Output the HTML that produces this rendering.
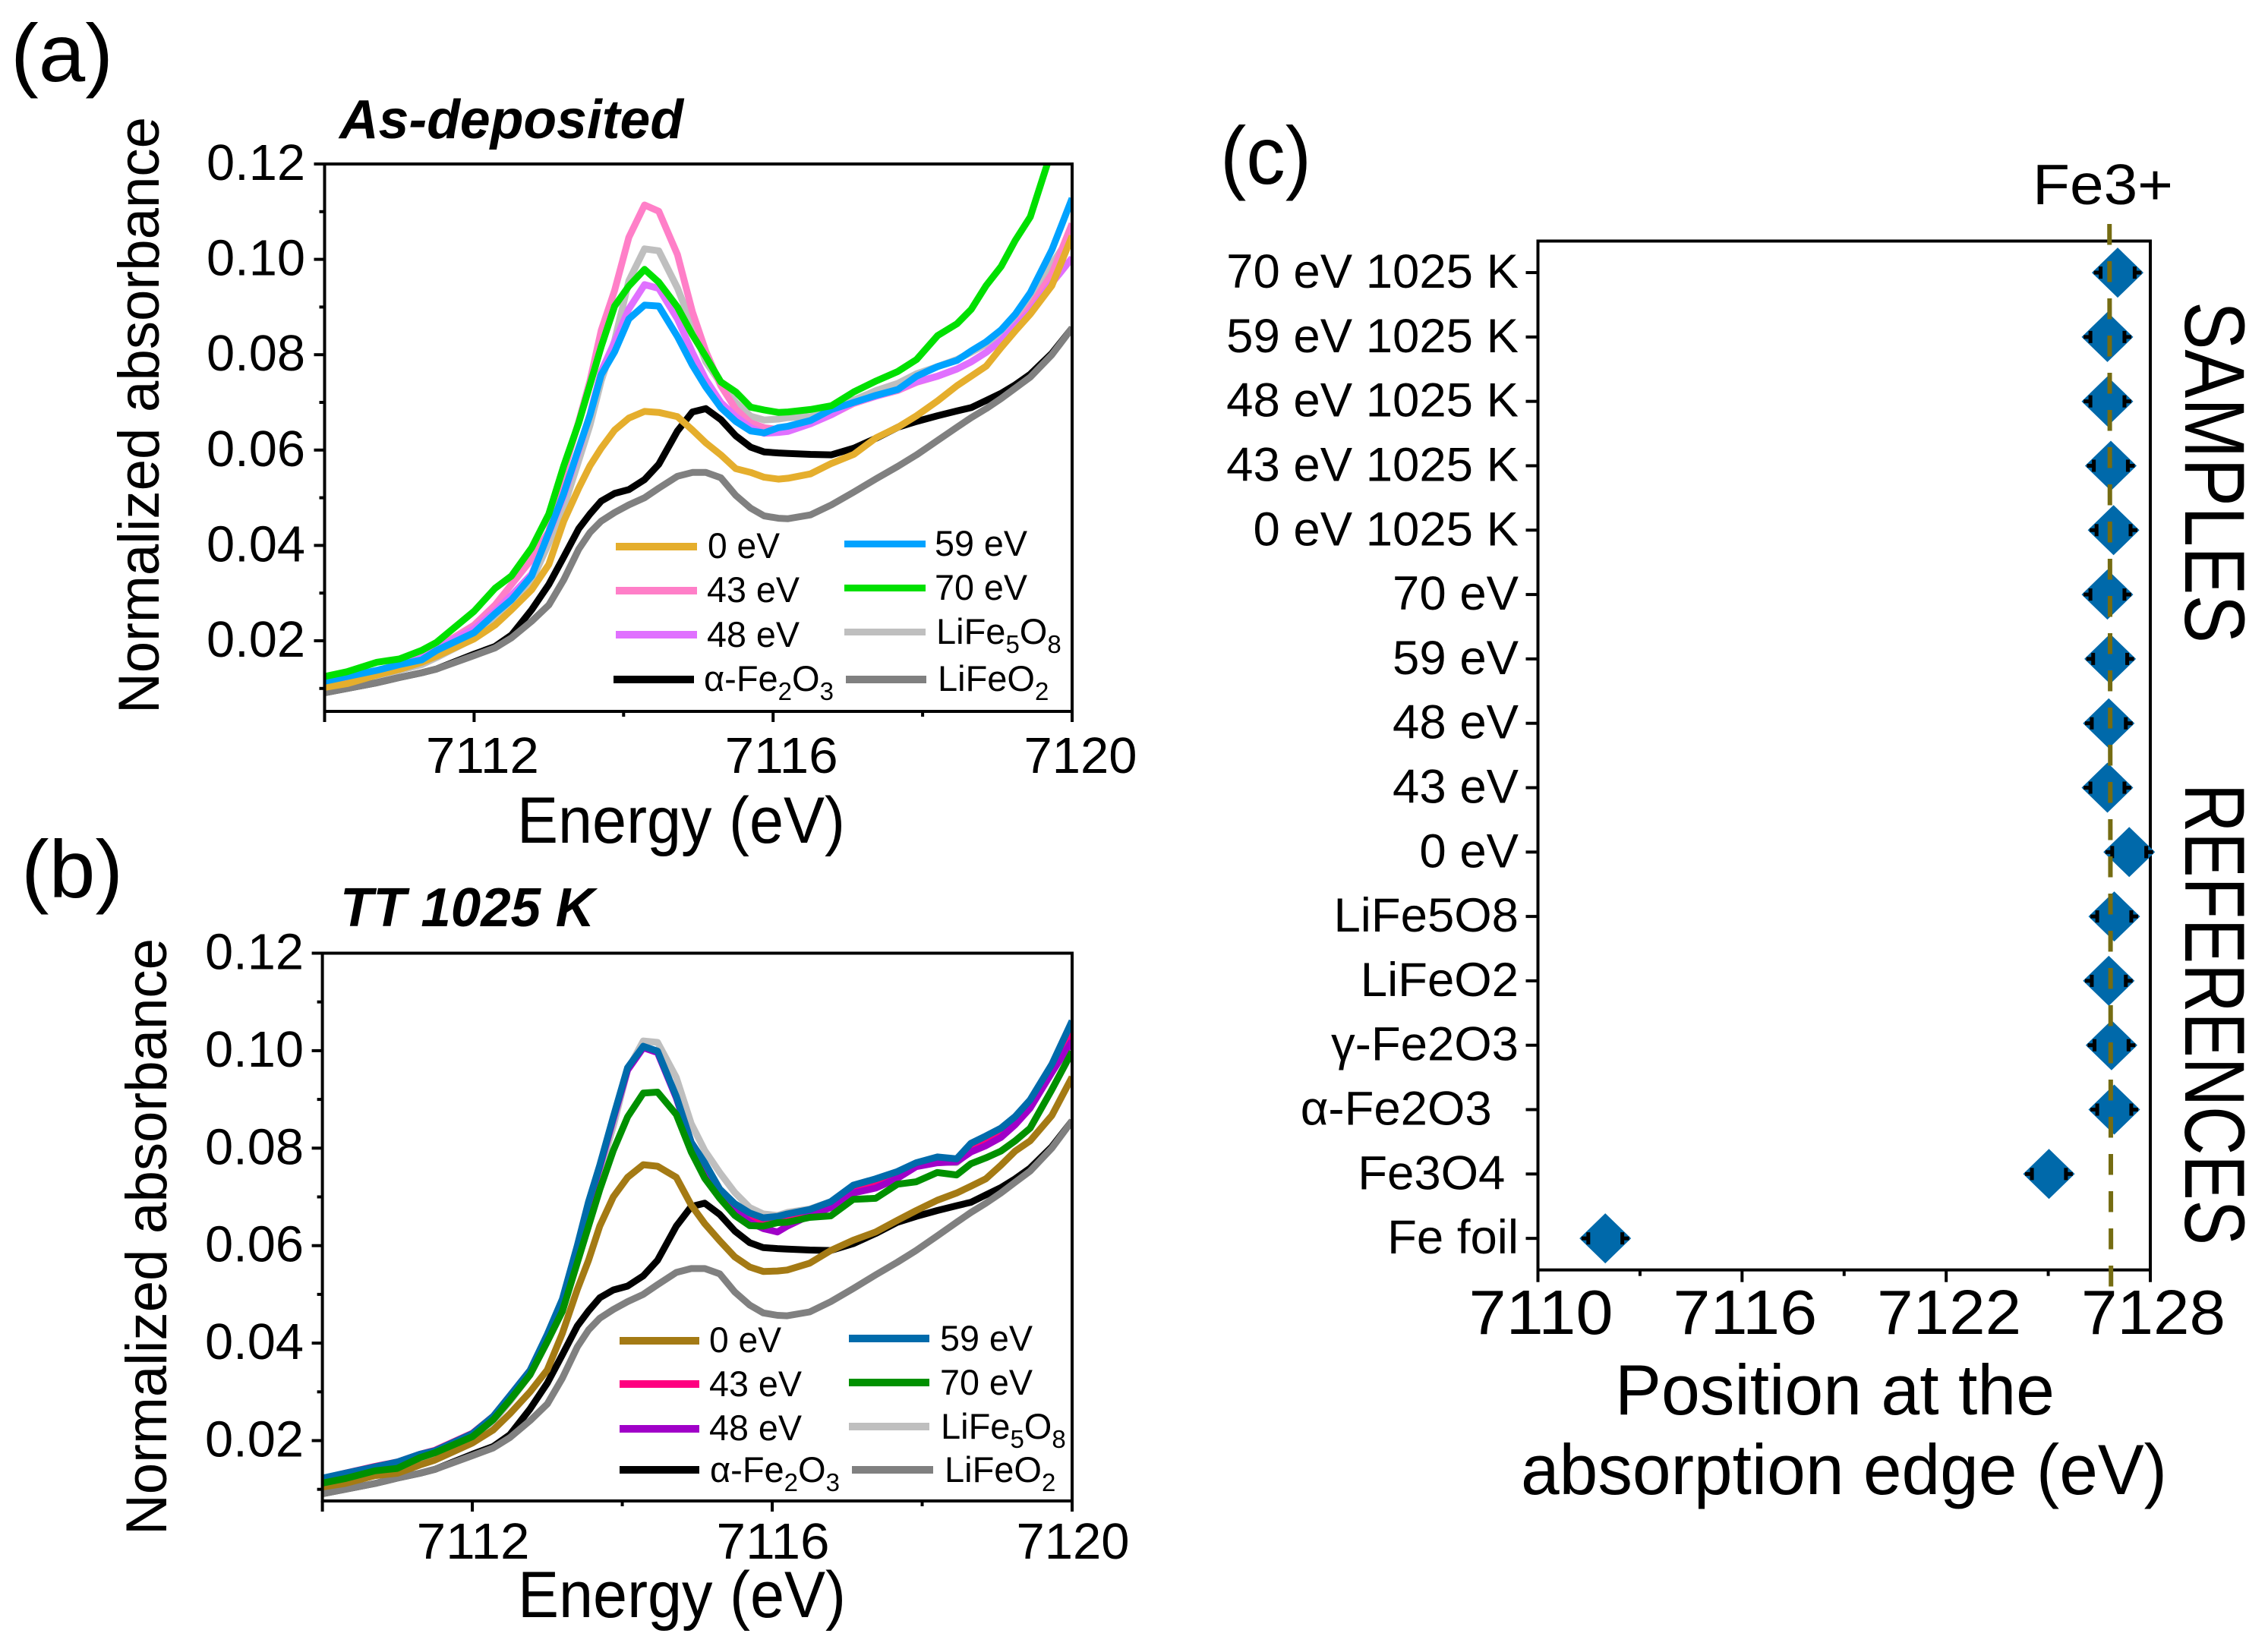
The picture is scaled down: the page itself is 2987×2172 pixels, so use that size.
<!DOCTYPE html>
<html lang="en">
<head>
<meta charset="utf-8">
<title>Fe K-edge XANES chart</title>
<style>
html,body{margin:0;padding:0;background:#fff;}
svg{display:block;}
text{font-family:"Liberation Sans","DejaVu Sans",sans-serif;fill:#000;white-space:pre;}
.panel-tag{font-size:108px;}
.plot-title{font-size:72px;font-weight:bold;font-style:italic;}
.ax-title{font-size:86px;}
.tick{font-size:67px;}
.leg{font-size:47px;}
.sub{font-size:33px;}
</style>
</head>
<body>
<svg id="figure" xmlns="http://www.w3.org/2000/svg" width="2987" height="2172" viewBox="0 0 2987 2172">
  <rect x="0" y="0" width="2987" height="2172" fill="#fff"/>

  <text class="panel-tag" x="14" y="107" textLength="135" lengthAdjust="spacingAndGlyphs">(a)</text>
  <text class="panel-tag" x="28" y="1182" textLength="134" lengthAdjust="spacingAndGlyphs">(b)</text>
  <text class="panel-tag" x="1607" y="242" textLength="120" lengthAdjust="spacingAndGlyphs">(c)</text>

  <text class="plot-title" x="447" y="182" textLength="453" lengthAdjust="spacingAndGlyphs">As-deposited</text>
  <text class="plot-title" x="448" y="1220" textLength="335" lengthAdjust="spacingAndGlyphs">TT 1025 K</text>

  <text transform="translate(209,940) rotate(-90)" style="font-size:76px" textLength="786" lengthAdjust="spacingAndGlyphs">Normalized absorbance</text>
  <text class="ax-title" x="681" y="1110" textLength="432" lengthAdjust="spacingAndGlyphs">Energy (eV)</text>
  <text transform="translate(219,2022) rotate(-90)" style="font-size:76px" textLength="786" lengthAdjust="spacingAndGlyphs">Normalized absorbance</text>
  <text class="ax-title" x="682" y="2130" textLength="432" lengthAdjust="spacingAndGlyphs">Energy (eV)</text>

  <g id="plotA"></g>
  <g id="plotB"></g>
  <g id="plotC"></g>

  <g>
    <rect x="811" y="715" width="107" height="10" fill="#e5ae2d"/>
    <rect x="811" y="773" width="107" height="10" fill="#ff7fc8"/>
    <rect x="811" y="831" width="107" height="10" fill="#e070ff"/>
    <rect x="808" y="890" width="106" height="10" fill="#000"/>
    <rect x="1112" y="712" width="107" height="9" fill="#00a2ff"/>
    <rect x="1112" y="770" width="107" height="9" fill="#00e000"/>
    <rect x="1112" y="828" width="107" height="9" fill="#bfbfbf"/>
    <rect x="1114" y="890" width="106" height="10" fill="#808080"/>
    <text class="leg" x="932" y="735" textLength="95" lengthAdjust="spacingAndGlyphs">0 eV</text>
    <text class="leg" x="931" y="793" textLength="122" lengthAdjust="spacingAndGlyphs">43 eV</text>
    <text class="leg" x="931" y="852" textLength="122" lengthAdjust="spacingAndGlyphs">48 eV</text>
    <text class="leg" x="927" y="910">α-Fe<tspan class="sub" dy="12">2</tspan><tspan dy="-12">O</tspan><tspan class="sub" dy="12">3</tspan></text>
    <text class="leg" x="1231" y="732" textLength="122" lengthAdjust="spacingAndGlyphs">59 eV</text>
    <text class="leg" x="1231" y="790" textLength="122" lengthAdjust="spacingAndGlyphs">70 eV</text>
    <text class="leg" x="1233" y="848">LiFe<tspan class="sub" dy="12">5</tspan><tspan dy="-12">O</tspan><tspan class="sub" dy="12">8</tspan></text>
    <text class="leg" x="1235" y="910">LiFeO<tspan class="sub" dy="12">2</tspan></text>
  </g>

  <g>
    <rect x="816" y="1761" width="105" height="10" fill="#a47a14"/>
    <rect x="816" y="1818" width="105" height="10" fill="#ff0080"/>
    <rect x="816" y="1877" width="105" height="10" fill="#a000c8"/>
    <rect x="816" y="1931" width="105" height="10" fill="#000"/>
    <rect x="1118" y="1758" width="106" height="10" fill="#006bab"/>
    <rect x="1118" y="1816" width="106" height="10" fill="#009000"/>
    <rect x="1118" y="1874" width="106" height="10" fill="#bfbfbf"/>
    <rect x="1122" y="1931" width="107" height="10" fill="#808080"/>
    <text class="leg" x="934" y="1781" textLength="95" lengthAdjust="spacingAndGlyphs">0 eV</text>
    <text class="leg" x="934" y="1839" textLength="122" lengthAdjust="spacingAndGlyphs">43 eV</text>
    <text class="leg" x="934" y="1897" textLength="122" lengthAdjust="spacingAndGlyphs">48 eV</text>
    <text class="leg" x="935" y="1952">α-Fe<tspan class="sub" dy="12">2</tspan><tspan dy="-12">O</tspan><tspan class="sub" dy="12">3</tspan></text>
    <text class="leg" x="1238" y="1779" textLength="122" lengthAdjust="spacingAndGlyphs">59 eV</text>
    <text class="leg" x="1238" y="1837" textLength="122" lengthAdjust="spacingAndGlyphs">70 eV</text>
    <text class="leg" x="1239" y="1895">LiFe<tspan class="sub" dy="12">5</tspan><tspan dy="-12">O</tspan><tspan class="sub" dy="12">8</tspan></text>
    <text class="leg" x="1244" y="1952">LiFeO<tspan class="sub" dy="12">2</tspan></text>
  </g>

  <text x="2677" y="269" style="font-size:75px" textLength="185" lengthAdjust="spacingAndGlyphs">Fe3+</text>
  <text transform="translate(2878,397) rotate(90)" style="font-size:112px" textLength="450" lengthAdjust="spacingAndGlyphs">SAMPLES</text>
  <text transform="translate(2878,1032) rotate(90)" style="font-size:112px" textLength="608" lengthAdjust="spacingAndGlyphs">REFERENCES</text>
  <text x="2127" y="1863" style="font-size:94px" textLength="579" lengthAdjust="spacingAndGlyphs">Position at the</text>
  <text x="2003" y="1968" style="font-size:94px" textLength="851" lengthAdjust="spacingAndGlyphs">absorption edge (eV)</text>
</svg>

<script>
// Shared energy grid (eV)
var energies = [7110,7110.3,7110.7,7111,7111.3,7111.5,7112,7112.28,7112.5,7112.77,7113,7113.2,7113.4,7113.55,7113.7,7113.88,7114.07,7114.28,7114.47,7114.72,7114.92,7115.1,7115.3,7115.5,7115.7,7115.88,7116.07,7116.2,7116.5,7116.78,7117.08,7117.38,7117.67,7117.92,7118.2,7118.46,7118.65,7118.85,7119.05,7119.24,7119.44,7119.73,7120];

// Reference spectra (both panels)
var alphaFe2O3 = [.0091,.0100,.0112,.0123,.0133,.0141,.0172,.0188,.0212,.0265,.0318,.0376,.0435,.0466,.0493,.0509,.0517,.0538,.0570,.0640,.0680,.0687,.0664,.0630,.0606,.0596,.0594,.0593,.0591,.0590,.0604,.0625,.0648,.0660,.0672,.0682,.0689,.0704,.0719,.0737,.0759,.0803,.0856];
var liFeO2 = [.0091,.0100,.0112,.0123,.0133,.0141,.0169,.0185,.0206,.0241,.0275,.0328,.0392,.0427,.0451,.0469,.0485,.0500,.0520,.0545,.0553,.0553,.0542,.0505,.0478,.0462,.0457,.0456,.0464,.0485,.0512,.0540,.0566,.0590,.0620,.0648,.0668,.0687,.0708,.0730,.0753,.0800,.0856];

// Panel (a) as-deposited spectra
var a0eV = [.0102,.0110,.0128,.0140,.0155,.0168,.0204,.0233,.0265,.0307,.0360,.0451,.0520,.0567,.0604,.0642,.0667,.0681,.0679,.0670,.0642,.0615,.0590,.0561,.0553,.0543,.0539,.0541,.0550,.0572,.0591,.0626,.0648,.0672,.0703,.0735,.0755,.0776,.0815,.0850,.0885,.0945,.1049];
var a43eV = [.0112,.0122,.0136,.0150,.0165,.0185,.0233,.0275,.0318,.0371,.0430,.0555,.0660,.0745,.0851,.0935,.1046,.1114,.1101,.1010,.0890,.0807,.0735,.0686,.0657,.0647,.0643,.0645,.0655,.0674,.0698,.0713,.0725,.0742,.0755,.0770,.0785,.0805,.0830,.0860,.0900,.0970,.1075];
var a48eV = [.0112,.0122,.0136,.0150,.0165,.0185,.0225,.0262,.0295,.0340,.0425,.0505,.0600,.0675,.0765,.0827,.0896,.0947,.0939,.0875,.0805,.0748,.0700,.0670,.0647,.0635,.0637,.0639,.0655,.0674,.0700,.0713,.0727,.0743,.0755,.0770,.0785,.0805,.0830,.0861,.0890,.0950,.1003];
var a59eV = [.0115,.0125,.0138,.0150,.0160,.0180,.0217,.0257,.0286,.0336,.0427,.0509,.0604,.0673,.0758,.0806,.0875,.0904,.0902,.0838,.0778,.0732,.0689,.0660,.0640,.0636,.0647,.0650,.0662,.0685,.0700,.0715,.0727,.0755,.0775,.0788,.0808,.0827,.0852,.0885,.0930,.1020,.1128];
var a70eV = [.0125,.0135,.0155,.0162,.0180,.0197,.0262,.0310,.0336,.0395,.0466,.0567,.0657,.0737,.0817,.0902,.0944,.0979,.0952,.0900,.0842,.0796,.0743,.0722,.0690,.0684,.0679,.0680,.0685,.0693,.0722,.0745,.0765,.0790,.0840,.0865,.0895,.0945,.0985,.1040,.1089,.1230,.1500];
var aLiFe5O8 = [.0105,.0113,.0125,.0138,.0150,.0165,.0205,.0240,.0275,.0325,.0405,.0480,.0578,.0652,.0745,.0830,.0955,.1022,.1018,.0940,.0860,.0785,.0740,.0700,.0671,.0663,.0665,.0668,.0670,.0680,.0705,.0725,.0740,.0760,.0775,.0790,.0805,.0822,.0845,.0880,.0918,.0990,.1055];

// Panel (b) TT 1025 K spectra
var b0eV = [.0105,.0112,.0128,.0133,.0150,.0160,.0195,.0222,.0255,.0300,.0345,.0420,.0510,.0570,.0640,.0700,.0740,.0766,.0763,.0740,.0683,.0645,.0610,.0577,.0556,.0547,.0548,.0550,.0564,.0590,.0611,.0628,.0652,.0672,.0693,.0708,.0722,.0737,.0765,.0794,.0815,.0867,.0946];
var b43eV = [.0122,.0133,.0147,.0156,.0172,.0180,.0215,.0250,.0292,.0344,.0416,.0488,.0598,.0688,.0763,.0862,.0963,.1008,.0998,.0905,.0812,.0768,.0712,.0680,.0657,.0648,.0650,.0655,.0668,.0684,.0715,.0728,.0745,.0768,.0778,.0776,.0800,.0815,.0835,.0860,.0895,.0965,.1035];
var b48eV = [.0120,.0131,.0145,.0154,.0170,.0178,.0213,.0248,.0290,.0342,.0414,.0486,.0596,.0686,.0761,.0860,.0960,.1006,.0996,.0903,.0810,.0765,.0708,.0673,.0648,.0635,.0628,.0640,.0662,.0678,.0708,.0718,.0738,.0762,.0770,.0772,.0792,.0805,.0822,.0848,.0882,.0955,.1020];
var b59eV = [.0123,.0133,.0146,.0156,.0172,.0179,.0214,.0250,.0292,.0344,.0418,.0490,.0600,.0690,.0765,.0864,.0965,.1009,.0999,.0906,.0812,.0770,.0716,.0686,.0667,.0657,.0660,.0665,.0674,.0690,.0724,.0737,.0752,.0770,.0782,.0778,.0810,.0825,.0841,.0865,.0899,.0972,.1061];
var b70eV = [.0113,.0122,.0138,.0143,.0165,.0175,.0208,.0243,.0283,.0335,.0403,.0465,.0565,.0640,.0715,.0795,.0864,.0913,.0915,.0869,.0792,.0738,.0697,.0662,.0641,.0640,.0647,.0648,.0658,.0661,.0695,.0697,.0726,.0731,.0750,.0745,.0768,.0780,.0794,.0815,.0841,.0920,.0998];
var bLiFe5O8 = [.0112,.0120,.0133,.0143,.0158,.0168,.0205,.0240,.0280,.0335,.0405,.0465,.0580,.0672,.0750,.0845,.0960,.1020,.1017,.0945,.0850,.0795,.0750,.0709,.0678,.0665,.0662,.0668,.0675,.0690,.0715,.0730,.0745,.0765,.0772,.0770,.0795,.0815,.0838,.0862,.0895,.0965,.1045];

// Axis labels and ticks for the spectra panels
var yMajorTicks = [0.02,0.04,0.06,0.08,0.10,0.12];
var yMinorTicks = [0.01,0.03,0.05,0.07,0.09,0.11];
var xMajorTicks = [7110,7112,7116,7120];
var xMinorTicks = [7114,7118];
var xTickLabels = [7112,7116,7120];

// Panel (c) data
var edgeCategories = ["70 eV 1025 K","59 eV 1025 K","48 eV 1025 K","43 eV 1025 K","0 eV 1025 K","70 eV","59 eV","48 eV","43 eV","0 eV","LiFe5O8","LiFeO2","γ-Fe2O3","α-Fe2O3  ","Fe3O4 ","Fe foil"];
var edgePositions = [7127.04,7126.74,7126.74,7126.84,7126.92,7126.74,7126.82,7126.78,7126.74,7127.38,7126.94,7126.78,7126.86,7126.94,7125.02,7111.98];
var edgeErrors = [0.5,0.5,0.5,0.5,0.5,0.5,0.5,0.5,0.5,0.5,0.5,0.5,0.5,0.5,0.5,0.5];
var edgeXTicks = [7110,7116,7122,7128];
var edgeXMinorTicks = [7113,7119,7125];
var fe3Reference = [7126.8];

var NS = "http://www.w3.org/2000/svg";
function mk(tag, parent) {
  var el = document.createElementNS(NS, tag);
  parent.appendChild(el);
  return el;
}
function tickLine(parent, x1, y1, x2, y2, w) {
  var l = mk("line", parent);
  l.setAttribute("x1", x1);
  l.setAttribute("y1", y1);
  l.setAttribute("x2", x2);
  l.setAttribute("y2", y2);
  l.setAttribute("stroke", "#000");
  l.setAttribute("stroke-width", w);
  
  
  return l;
}

function drawSpectra(cfg) {
  var g = document.getElementById(cfg.id);
  function X(e) { return cfg.left + (e - 7110) / 10 * (cfg.right - cfg.left); }
  function Y(v) { return cfg.y012 + (0.12 - v) * cfg.pxPerUnit; }

  var clip = mk("clipPath", g);
  clip.setAttribute("id", cfg.id + "-clip");
  var cr = mk("rect", clip);
  cr.setAttribute("x", cfg.left);
  cr.setAttribute("y", cfg.y012);
  cr.setAttribute("width", cfg.right - cfg.left);
  cr.setAttribute("height", cfg.bottom - cfg.y012);

  var sg = mk("g", g);
  sg.setAttribute("clip-path", "url(#" + cfg.id + "-clip)");
  
  
  cfg.series.forEach(function (s) {
    var p = mk("polyline", sg);
    p.setAttribute("points", energies.map(function (e, i) { return X(e).toFixed(1) + "," + Y(s.values[i]).toFixed(1); }).join(" "));
    p.setAttribute("fill", "none");
    p.setAttribute("stroke", s.color);
    p.setAttribute("stroke-width", cfg.lineWidth);
    p.setAttribute("stroke-linejoin", "round");
    
    
  });

  var frame = mk("rect", g);
  frame.setAttribute("x", cfg.left);
  frame.setAttribute("y", cfg.y012);
  frame.setAttribute("width", cfg.right - cfg.left);
  frame.setAttribute("height", cfg.bottom - cfg.y012);
  frame.setAttribute("fill", "none");
  frame.setAttribute("stroke", "#000");
  frame.setAttribute("stroke-width", 4);
  
  

  yMajorTicks.forEach(function (v) {
    tickLine(g, cfg.left - 14, Y(v), cfg.left, Y(v), 4);
    var t = mk("text", g);
    t.setAttribute("class", "tick");
    t.setAttribute("x", cfg.yLabelRight);
    t.setAttribute("y", Y(v) + cfg.yLabelDy);
    t.setAttribute("text-anchor", "end");
    t.setAttribute("textLength", 130);
    t.setAttribute("lengthAdjust", "spacingAndGlyphs");
    
    
    t.textContent = v.toFixed(2);
  });
  yMinorTicks.forEach(function (v) { tickLine(g, cfg.left - 7, Y(v), cfg.left, Y(v), 4); });
  xMajorTicks.forEach(function (e) { tickLine(g, X(e), cfg.bottom, X(e), cfg.bottom + 14, 4); });
  xMinorTicks.forEach(function (e) { tickLine(g, X(e), cfg.bottom, X(e), cfg.bottom + 7, 4); });
  xTickLabels.forEach(function (e) {
    var t = mk("text", g);
    t.setAttribute("class", "tick");
    t.setAttribute("x", X(e) + cfg.xLabelDx);
    t.setAttribute("y", cfg.xLabelY);
    t.setAttribute("text-anchor", "middle");
    t.setAttribute("textLength", 149);
    t.setAttribute("lengthAdjust", "spacingAndGlyphs");
    
    
    t.textContent = e;
  });
}

drawSpectra({
  id: "plotA", left: 427.5, right: 1412, y012: 216, bottom: 937, pxPerUnit: 6280,
  lineWidth: 9, yLabelRight: 402, yLabelDy: 21, xLabelDx: 11, xLabelY: 1018,
  series: [
    {name: "life5o8", color: "#bfbfbf", values: aLiFe5O8},
    {name: "alpha-fe2o3", color: "#000000", values: alphaFe2O3},
    {name: "lifeo2", color: "#808080", values: liFeO2},
    {name: "43-ev", color: "#ff7fc8", values: a43eV},
    {name: "48-ev", color: "#e070ff", values: a48eV},
    {name: "0-ev", color: "#e5ae2d", values: a0eV},
    {name: "59-ev", color: "#00a2ff", values: a59eV},
    {name: "70-ev", color: "#00e000", values: a70eV}
  ]
});
drawSpectra({
  id: "plotB", left: 424.6, right: 1412, y012: 1255.5, bottom: 1977, pxPerUnit: 6420,
  lineWidth: 9, yLabelRight: 400, yLabelDy: 21, xLabelDx: 1, xLabelY: 2053,
  series: [
    {name: "life5o8", color: "#bfbfbf", values: bLiFe5O8},
    {name: "alpha-fe2o3", color: "#000000", values: alphaFe2O3},
    {name: "lifeo2", color: "#808080", values: liFeO2},
    {name: "0-ev", color: "#a47a14", values: b0eV},
    {name: "43-ev", color: "#ff0080", values: b43eV},
    {name: "48-ev", color: "#a000c8", values: b48eV},
    {name: "59-ev", color: "#006bab", values: b59eV},
    {name: "70-ev", color: "#009000", values: b70eV}
  ]
});

(function drawEdgePanel() {
  var g = document.getElementById("plotC");
  var left = 2025.5, right = 2832, top = 317.5, bottom = 1672.7;
  function X(e) { return left + (e - 7110) / 18 * (right - left); }
  function Y(i) { return top + (i + 0.49) / 15.98 * (bottom - top); }

  var frame = mk("rect", g);
  frame.setAttribute("x", left);
  frame.setAttribute("y", top);
  frame.setAttribute("width", right - left);
  frame.setAttribute("height", bottom - top);
  frame.setAttribute("fill", "none");
  frame.setAttribute("stroke", "#000");
  frame.setAttribute("stroke-width", 4);
  
  

  edgeCategories.forEach(function (c, i) {
    tickLine(g, left - 16, Y(i), left, Y(i), 4);
    var t = mk("text", g);
    t.setAttribute("x", 2000);
    t.setAttribute("y", Y(i) + 20);
    t.setAttribute("text-anchor", "end");
    t.setAttribute("style", "font-size:63.5px");
    
    
    t.textContent = c;
  });
  edgeXTicks.forEach(function (e) {
    tickLine(g, X(e), bottom, X(e), bottom + 16, 4);
    var t = mk("text", g);
    t.setAttribute("x", X(e) + 4);
    t.setAttribute("y", 1757);
    t.setAttribute("text-anchor", "middle");
    t.setAttribute("style", "font-size:83px");
    t.setAttribute("textLength", 190);
    t.setAttribute("lengthAdjust", "spacingAndGlyphs");
    
    
    t.textContent = e;
  });
  edgeXMinorTicks.forEach(function (e) { tickLine(g, X(e), bottom, X(e), bottom + 8, 4); });

  edgePositions.forEach(function (e, i) {
    var cx = X(e), cy = Y(i);
    var d = mk("polygon", g);
    d.setAttribute("points", [[cx, cy - 33], [cx + 34, cy], [cx, cy + 33], [cx - 34, cy]].map(function (p) { return p[0].toFixed(1) + "," + p[1].toFixed(1); }).join(" "));
    d.setAttribute("fill", "#0069aa");
    
    
    [-1, 1].forEach(function (side) {
      var cap = X(e + side * edgeErrors[i]);
      var bar = mk("line", g);
      bar.setAttribute("x1", cap);
      bar.setAttribute("y1", cy - 8);
      bar.setAttribute("x2", cap);
      bar.setAttribute("y2", cy + 8);
      bar.setAttribute("stroke", "#000");
      bar.setAttribute("stroke-width", 5);
      
      
      var stub = mk("line", g);
      stub.setAttribute("x1", cap);
      stub.setAttribute("y1", cy);
      stub.setAttribute("x2", cap + side * 9);
      stub.setAttribute("y2", cy);
      stub.setAttribute("stroke", "#000");
      stub.setAttribute("stroke-width", 5);
      
      
    });
  });

  var ref = mk("line", g);
  ref.setAttribute("x1", X(fe3Reference[0]));
  ref.setAttribute("y1", 295);
  ref.setAttribute("x2", X(fe3Reference[0]) + 2);
  ref.setAttribute("y2", 1698);
  ref.setAttribute("stroke", "#756c12");
  ref.setAttribute("stroke-width", 6);
  ref.setAttribute("stroke-dasharray", "27.5 21.5");
  
  
})();
</script>
</body>
</html>
